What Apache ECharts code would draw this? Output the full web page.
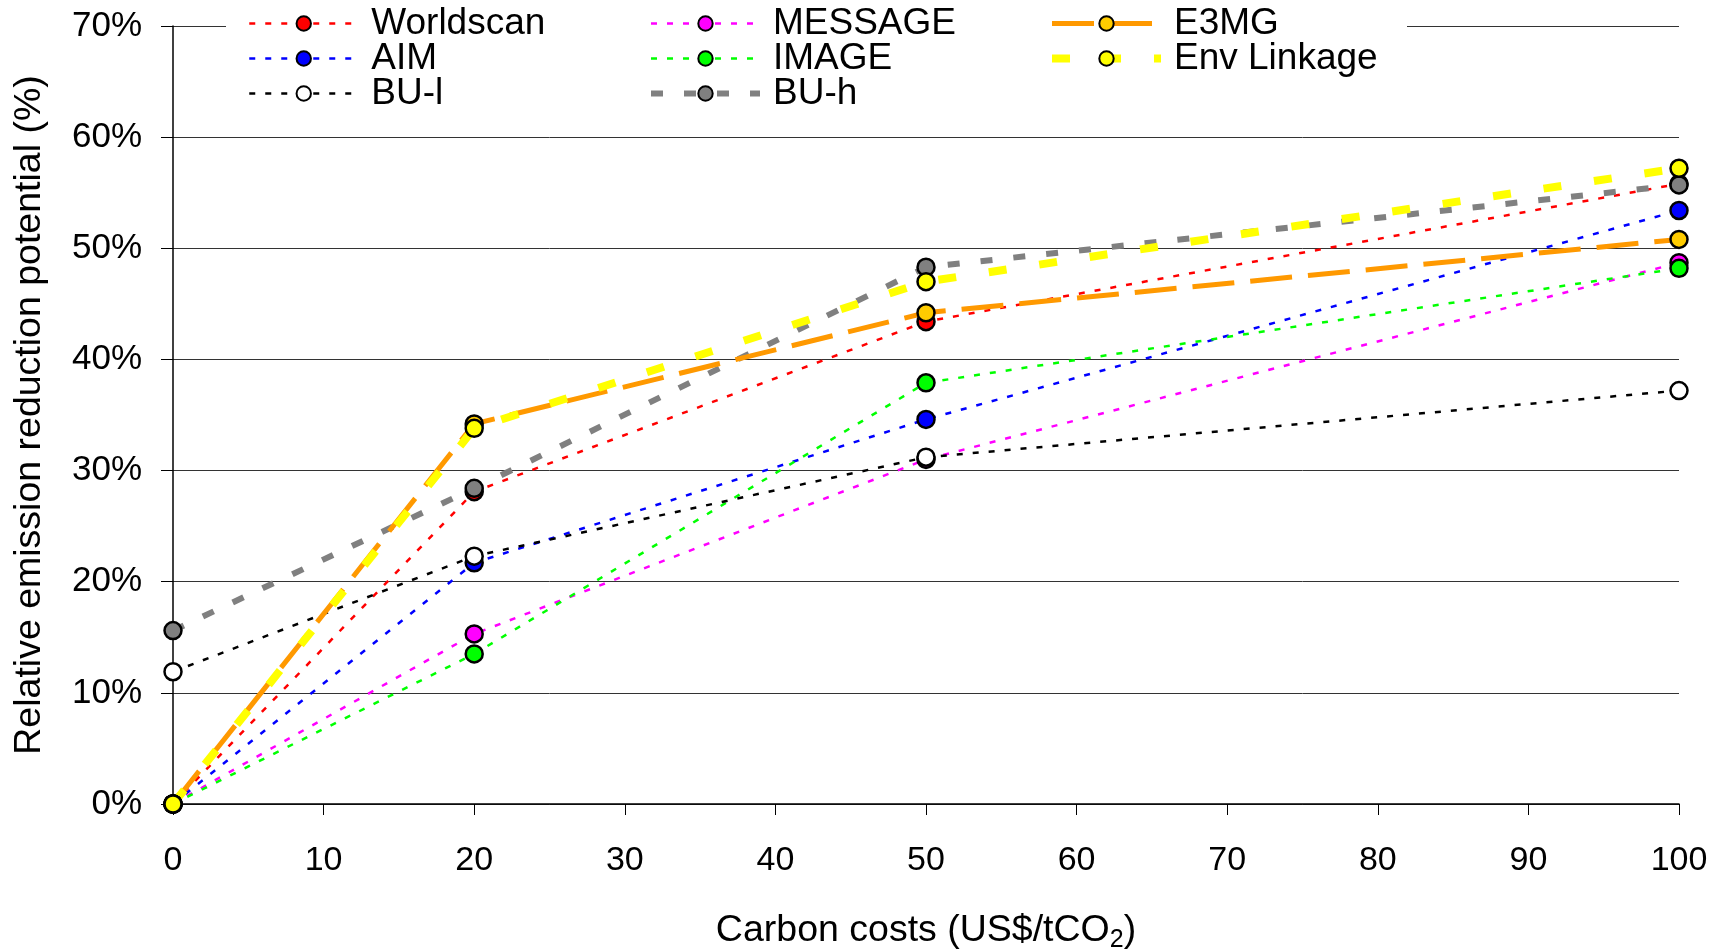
<!DOCTYPE html>
<html>
<head>
<meta charset="utf-8">
<title>Relative emission reduction potential vs carbon costs</title>
<script src="https://cdn.jsdelivr.net/npm/echarts@6/dist/echarts.min.js"></script>
<style>
  html, body { margin: 0; padding: 0; background: #fff; }
  #chart { width: 1731px; height: 950px; }
</style>
</head>
<body>
<div id="chart"></div>
<script>
// Carbon price levels (US$/tCO2) at which each model reports a value
const carbonCosts = [0, 20, 50, 100];

// Relative emission reduction potential (%) per model
const worldscan  = [0, 28.1, 43.4, 55.8];
const aim        = [0, 21.7, 34.6, 53.4];
const buLow      = [11.9, 22.3, 31.2, 37.2];
const message    = [0, 15.3, 31.0, 48.7];
const image      = [0, 13.5, 37.9, 48.2];
const buHigh     = [15.6, 28.4, 48.3, 55.7];
const e3mg       = [0, 34.2, 44.2, 50.8];
const envLinkage = [0, 33.8, 47.0, 57.2];

const FONT = 'Liberation Sans, Arial, sans-serif';

function pairs(values) {
  return carbonCosts.map((c, i) => [c, values[i]]);
}

// name, values, line colour, marker fill, line width, dash pattern
const models = [
  ['Worldscan',   worldscan,  '#ff0000', '#ff0000', 2.5, [6, 10]],
  ['AIM',         aim,        '#0000ff', '#0000ff', 2.5, [6, 10]],
  ['MESSAGE',     message,    '#ff00ff', '#ff00ff', 2.5, [6, 10]],
  ['IMAGE',       image,      '#00ff00', '#00ff00', 2.5, [6, 10]],
  ['BU-l',        buLow,      '#000000', '#ffffff', 2.5, [6, 10]],
  ['BU-h',        buHigh,     '#808080', '#808080', 6,   [12, 21]],
  ['E3MG',        e3mg,       '#ff9900', '#ffcc00', 5,   [42, 16]],
  ['Env Linkage', envLinkage, '#ffff00', '#ffff00', 8,   [18, 33]]
];

const series = models.map(([name, values, lineColor, fill, width, dash]) => ({
  name: name,
  type: 'line',
  data: pairs(values),
  symbol: 'circle',
  symbolSize: 17,
  showAllSymbol: true,
  lineStyle: { color: lineColor, width: width, type: dash },
  itemStyle: { color: fill, borderColor: '#000', borderWidth: 2.5 },
  emphasis: { disabled: true }
}));

const widthOf = {};
models.forEach(m => { widthOf[m[0]] = m[4]; });

function legendColumn(names, left) {
  return {
    orient: 'vertical',
    left: left,
    top: 5,
    padding: 0,
    itemWidth: 109,
    itemHeight: 18,
    itemGap: -2,
    selectedMode: false,
    textStyle: {
      fontFamily: FONT,
      fontSize: 37,
      color: '#000',
      lineHeight: 30,
      padding: [0, 0, 0, 8]
    },
    data: names.map(n => ({ name: n, lineStyle: { width: widthOf[n] } }))
  };
}

const chart = echarts.init(document.getElementById('chart'), null, { renderer: 'canvas' });
chart.setOption({
  animation: false,
  backgroundColor: '#fff',
  grid: {
    left: 173, right: 52, top: 26, bottom: 146,
    containLabel: false,
    outerBoundsMode: 'none'
  },
  graphic: [{
    type: 'rect',
    z: 3,
    shape: { x: 226, y: 0, width: 1181, height: 110 },
    style: { fill: '#fff' },
    silent: true
  }],
  legend: [
    legendColumn(['Worldscan', 'AIM', 'BU-l'], 248),
    legendColumn(['MESSAGE', 'IMAGE', 'BU-h'], 648),
    legendColumn(['E3MG', 'Env Linkage'], 1048)
  ],
  xAxis: {
    type: 'value',
    min: 0,
    max: 100,
    interval: 10,
    name: 'Carbon costs (US$/tCO{sub|2})',
    nameLocation: 'middle',
    nameGap: 104,
    nameTextStyle: {
      fontFamily: FONT,
      fontSize: 37.5,
      color: '#000',
      rich: {
        sub: { fontFamily: FONT, fontSize: 25, color: '#000', verticalAlign: 'bottom', padding: [20, 0, 0, 0] }
      }
    },
    axisLine: { show: true, onZero: false, lineStyle: { color: '#000', width: 1.5 } },
    axisTick: { show: true, inside: false, length: 11, lineStyle: { color: '#000', width: 1 } },
    axisLabel: { fontFamily: FONT, fontSize: 34, color: '#000', margin: 40 },
    splitLine: { show: false }
  },
  yAxis: {
    type: 'value',
    min: 0,
    max: 70,
    interval: 10,
    name: 'Relative emission reduction potential (%)',
    nameLocation: 'middle',
    nameGap: 124,
    nameTextStyle: { fontFamily: FONT, fontSize: 37.5, color: '#000' },
    axisLine: { show: true, lineStyle: { color: '#000', width: 1.5 } },
    axisTick: { show: true, inside: false, length: 12, lineStyle: { color: '#000', width: 1 } },
    axisLabel: { fontFamily: FONT, fontSize: 35, color: '#000', margin: 31, formatter: '{value}%' },
    splitLine: { show: true, lineStyle: { color: '#333', width: 1 } }
  },
  series: series
});
</script>
</body>
</html>
